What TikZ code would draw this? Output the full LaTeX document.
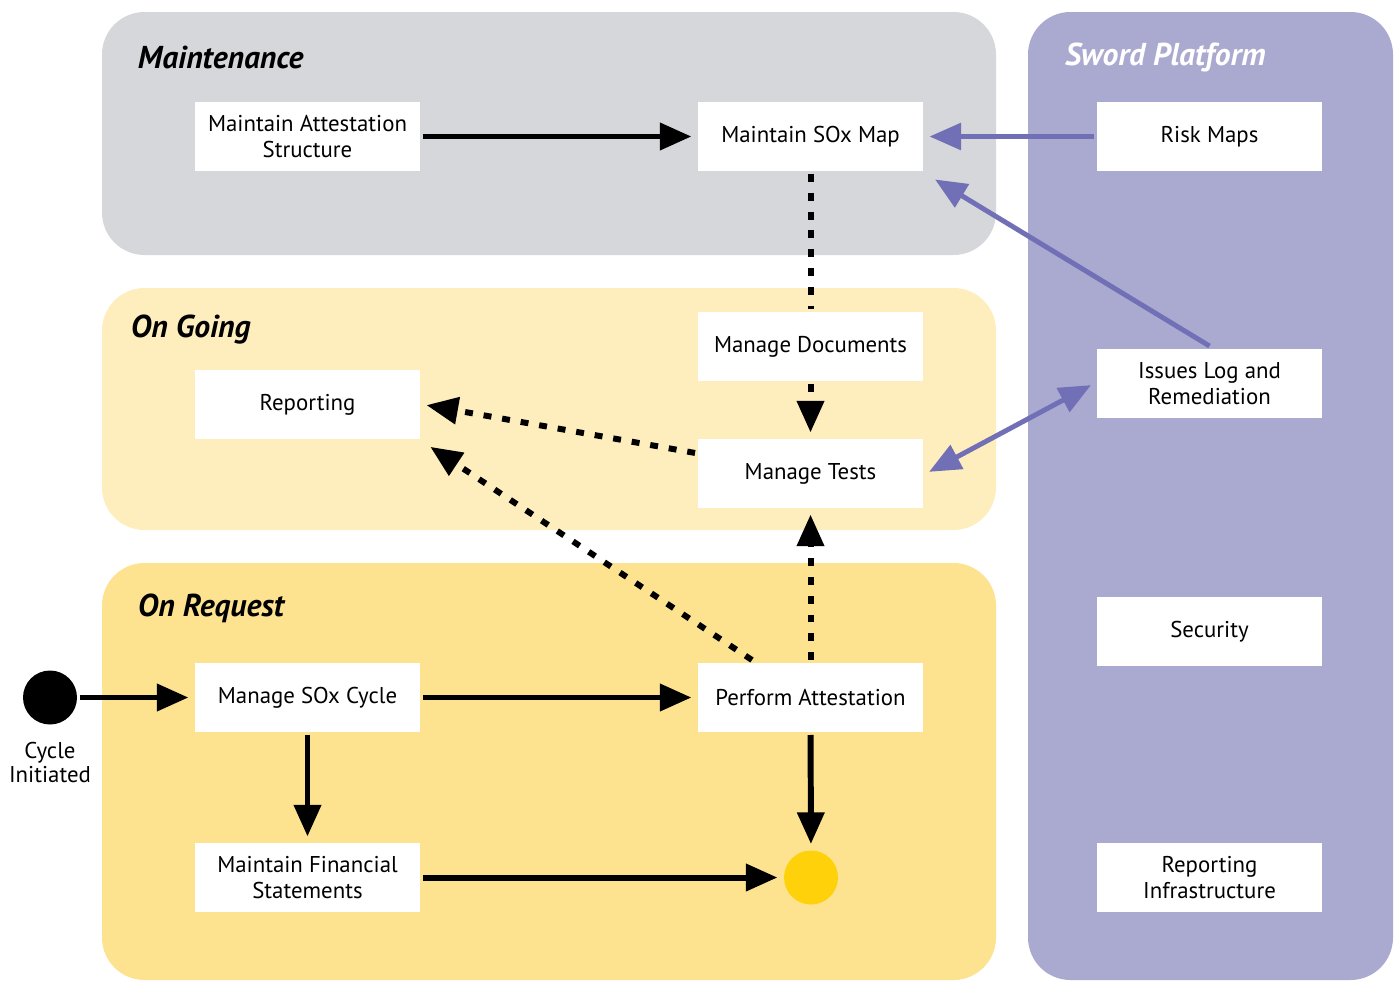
\documentclass[tikz,border=0pt]{standalone}
\usepackage{fontspec}
\setmainfont{PT Sans}
\usetikzlibrary{arrows.meta}
\definecolor{maintgray}{HTML}{D6D7DA}
\definecolor{ongoingyellow}{HTML}{FEEDBD}
\definecolor{requestyellow}{HTML}{FDE390}
\definecolor{swordpurple}{HTML}{AAA9D0}
\definecolor{swordblue}{HTML}{716FB5}
\definecolor{enddot}{HTML}{FFD10A}
\begin{document}
\begin{tikzpicture}[->,>={Triangle[length=18pt,width=15pt]},shorten >=2pt,node distance=3cm,line width=3.4pt,
	task node/.style={rectangle,fill=white,minimum width=4.5cm,minimum height=1.38cm,align=center,inner sep=2pt,font=\fontsize{13}{14.7}\selectfont},
	panel title/.style={anchor=west,inner sep=0pt,font=\fontsize{18}{20}\selectfont\bfseries\itshape},
	state dot/.style={circle,minimum size=1.08cm,inner sep=0pt},
	dot link/.style={dash pattern=on 4.5pt off 6.2pt},
	sword link/.style={color=swordblue,line width=2.8pt}]

	\useasboundingbox (0,0) rectangle (27.98,-19.6);

	% swimlanes
	\begin{scope}[-]
	\fill[maintgray,rounded corners=0.85cm] (2.04,-0.24) rectangle (19.92,-5.10);
	\fill[ongoingyellow,rounded corners=0.85cm] (2.04,-5.76) rectangle (19.92,-10.60);
	\fill[requestyellow,rounded corners=0.85cm] (2.04,-11.26) rectangle (19.92,-19.6);
	\fill[swordpurple,rounded corners=0.85cm] (20.56,-0.24) rectangle (27.86,-19.6);
	\end{scope}

	\node[panel title] (maintlbl) at (2.7,-1.14) {Maintenance};
	\node[panel title] (ongoinglbl) at (2.56,-6.6) {On Going};
	\node[panel title] (requestlbl) at (2.7,-12.16) {On Request};
	\node[panel title,white] (swordlbl) at (21.24,-1.14) {Sword Platform};

	\node[task node] (soxmap) at (16.21,-2.73) {Maintain SOx Map};
	\node[task node] (attstruct) [left of=soxmap,node distance=10.06cm] {Maintain Attestation\\Structure};
	\node[task node] (riskmaps) [right of=soxmap,node distance=7.98cm] {Risk Maps};
	\node[task node] (documents) [below of=soxmap,node distance=4.2cm] {Manage Documents};
	\node[task node] (tests) [below of=documents,node distance=2.54cm] {Manage Tests};
	\node[task node] (reporting) [left of=tests,node distance=10.06cm,yshift=1.38cm] {Reporting};
	\node[task node] (issues) [right of=tests,node distance=7.98cm,yshift=1.8cm] {Issues Log and\\Remediation};
	\node[task node] (perform) [below of=tests,node distance=4.48cm] {Perform Attestation};
	\node[task node] (cycle) [left of=perform,node distance=10.06cm] {Manage SOx Cycle};
	\node[task node] (security) [right of=perform,node distance=7.98cm,yshift=1.32cm] {Security};
	\node[task node] (financial) [below of=cycle,node distance=3.6cm] {Maintain Financial\\Statements};
	\node[state dot,fill=enddot] (end) [right of=financial,node distance=10.07cm] {};
	\node[task node] (infra) [right of=end,node distance=7.97cm] {Reporting\\Infrastructure};
	\node[state dot,fill=black] (start) [left of=cycle,node distance=5.15cm] {};
	\node[align=center,inner sep=0pt,font=\fontsize{13}{13.2}\selectfont] (startlbl) [below of=start,node distance=1.3cm] {Cycle\\Initiated};

	\path
		(attstruct) edge (soxmap)

		(soxmap)
		edge[dot link,-,shorten >=0pt] (documents)

		(documents)
		edge[dot link] (tests)

		(tests)
		edge[dot link] (reporting.east)

		([xshift=-1.17cm]perform.north)
		edge[dot link,shorten >=5pt] (reporting.south east)

		(perform)
		edge[dot link] (tests)
		edge (end)

		(start)
		edge (cycle)

		(cycle)
		edge (perform)
		edge (financial)

		(financial)
		edge (end)
		;

	\draw[sword link] (riskmaps) -- (soxmap);
	\draw[sword link,shorten >=6pt] (issues.north) -- (soxmap.south east);
	\draw[sword link,<->,shorten <=2pt] (issues.west) -- (tests.east);

\end{tikzpicture}
\end{document}
